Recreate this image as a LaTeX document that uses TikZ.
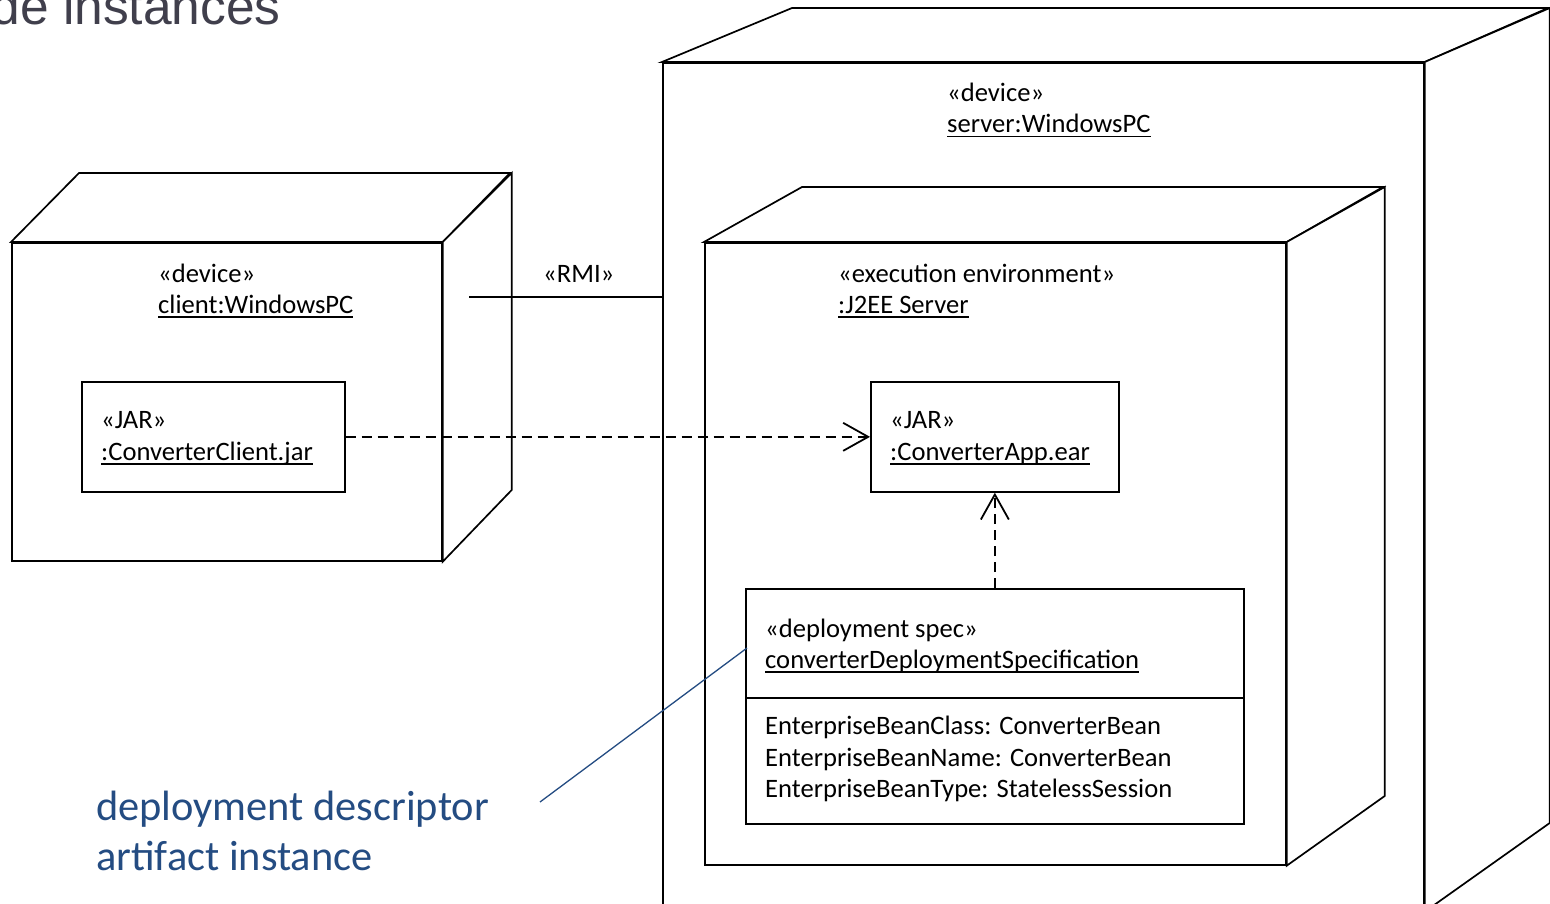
\documentclass[tikz,border=0pt]{standalone}
\usepackage{fontspec}
\setmainfont{Carlito}
\newfontfamily\titlefont{Liberation Sans}
\usetikzlibrary{arrows.meta}
\definecolor{titlegray}{RGB}{64,63,76}
\definecolor{noteblue}{RGB}{36,76,130}
\newcommand\ulx[1]{\setbox0=\hbox{#1}\rlap{\rule[-4.5pt]{\wd0}{1.4pt}}\box0}
\begin{document}
\begin{tikzpicture}[x=1pt,y=-1pt,
  face/.style={draw=black,line width=1.7pt,fill=white,line join=miter},
  frontface/.style={face,rectangle,inner sep=0pt,anchor=north west},
  lbl/.style={anchor=base west,inner sep=0pt,font=\fontsize{26.6}{32}\selectfont},
  artifact/.style={draw=black,line width=1.7pt,fill=white,rectangle,inner sep=0pt,anchor=north west},
  depdash/.style={line width=2pt,dash pattern=on 10pt off 6pt,-{Straight Barb[length=25pt,width=28pt,line width=1.8pt]}},
  plain/.style={line width=1.7pt},
  noteline/.style={draw=noteblue,line width=1.3pt},
  notetext/.style={anchor=base west,inner sep=0pt,text=noteblue,font=\fontsize{42.4}{50}\selectfont},
]
\useasboundingbox (0,0) rectangle (1550,904);
\clip (0,0) rectangle (1550,904);

% title (cut off at the left edge)
\node[anchor=base east,inner sep=0pt,text=titlegray,font=\titlefont\fontsize{51.5}{60}\selectfont] (title) at (281,25) {Node instances};

% client device node
\node[frontface,minimum width=430pt,minimum height=318pt] (client) at (11,242) {};
\draw[face] (client.north west) -- ++(68,-69) -- ++(431,0) -- (client.north east) -- cycle;
\draw[face] (client.north east) -- ++(69,-69) -- ++(0,317) -- (client.south east) -- cycle;

% server device node
\node[frontface,minimum width=761pt,minimum height=848pt] (server) at (662,62) {};
\draw[face] (server.north west) -- ++(130,-54) -- ++(756,0) -- (server.north east) -- cycle;
\draw[face] (server.north east) -- ++(125,-54) -- ++(0,815) -- (server.south east) -- cycle;

% J2EE execution environment
\node[frontface,minimum width=581pt,minimum height=622pt] (j2ee) at (704,242) {};
\draw[face] (j2ee.north west) -- ++(98,-55) -- ++(581,0) -- (j2ee.north east) -- cycle;
\draw[face] (j2ee.north east) -- ++(98,-55) -- ++(0,609) -- (j2ee.south east) -- cycle;

% labels of nodes
\node[lbl] (clientst) at (158,282) {«device»};
\node[lbl] (clientnm) at (158,313) {\ulx{client:WindowsPC}};
\node[lbl] (serverst) at (947,102) {«device»};
\node[lbl] (servernm) at (947,133) {\ulx{server:WindowsPC}};
\node[lbl] (j2eest) at (838,282) {«execution environment»};
\node[lbl] (j2eenm) at (838,313) {\ulx{:J2EE Server}};

% artifacts
\node[artifact,minimum width=263pt,minimum height=110pt] (clientjar) at (81,381) {};
\node[lbl] (clientjarst) at (101,428) {«JAR»};
\node[lbl] (clientjarnm) at (101,460) {\ulx{:ConverterClient.jar}};

\node[artifact,minimum width=248pt,minimum height=110pt] (appear) at (870,381) {};
\node[lbl] (appearst) at (890,428) {«JAR»};
\node[lbl] (appearnm) at (890,460) {\ulx{:ConverterApp.ear}};

\node[artifact,minimum width=498pt,minimum height=235pt] (depspec) at (745,588) {};
\draw[plain] (depspec.west |- 0,698) -- (depspec.east |- 0,698);
\node[lbl] (depspecst) at (765,637) {«deployment spec»};
\node[lbl] (depspecnm) at (765,668) {\ulx{converterDeploymentSpecification}};
\node[lbl] (attr1) at (765,734) {EnterpriseBeanClass: ConverterBean};
\node[lbl] (attr2) at (765,766) {EnterpriseBeanName: ConverterBean};
\node[lbl] (attr3) at (765,797) {EnterpriseBeanType: StatelessSession};

% RMI communication path
\coordinate (rmistart) at (469,297);
\draw[plain] (rmistart) -- (rmistart -| server.west);
\node[lbl] (rmi) at (543,282) {«RMI»};

% dependencies
\draw[depdash] (clientjar.east) -- (appear.west);
\draw[depdash] (depspec.north) -- (appear.south);

% note
\coordinate (notestart) at (540,802);
\coordinate (notetip) at (747,648);
\draw[noteline] (notestart) -- (notetip);
\node[notetext] (note1) at (96,820) {deployment descriptor};
\node[notetext] (note2) at (96,870) {artifact instance};
\end{tikzpicture}
\end{document}
